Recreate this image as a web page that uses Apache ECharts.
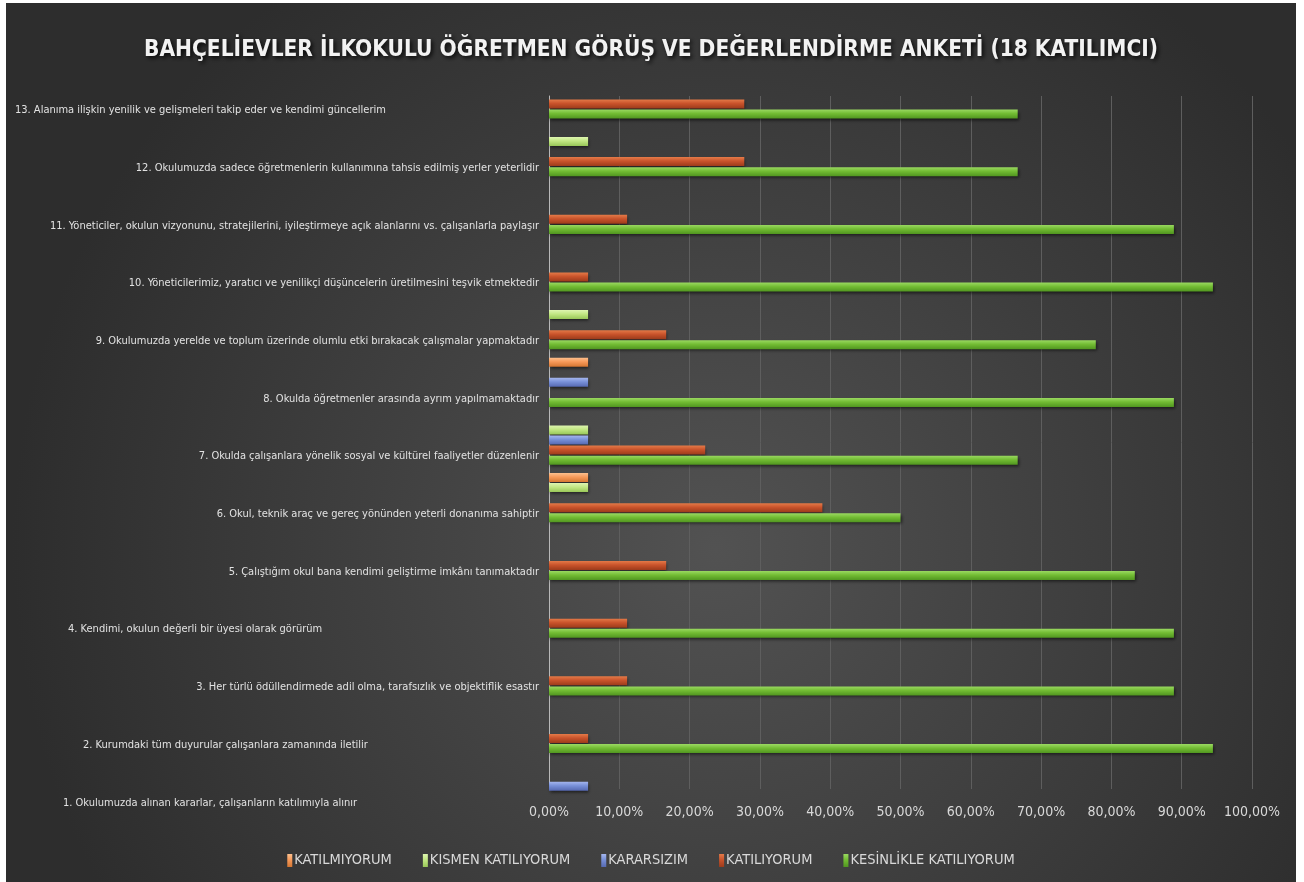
<!DOCTYPE html>
<html><head><meta charset="utf-8">
<script src="https://cdn.jsdelivr.net/npm/echarts@6/dist/echarts.min.js"></script>
<style>
html,body{margin:0;padding:0;background:#fff;width:1304px;height:882px;overflow:hidden}
#c{position:absolute;left:6px;top:3px;width:1290px;height:879px}
</style></head><body><div id="c"></div>
<script>
// ---- DATA (categories bottom -> top) ----
const categories = [
  "1. Okulumuzda alınan kararlar, çalışanların katılımıyla alınır",
  "2. Kurumdaki tüm duyurular çalışanlara zamanında iletilir",
  "3. Her türlü ödüllendirmede adil olma, tarafsızlık ve objektiflik esastır",
  "4. Kendimi, okulun değerli bir üyesi olarak görürüm",
  "5. Çalıştığım okul bana kendimi geliştirme imkânı tanımaktadır",
  "6. Okul, teknik araç ve gereç yönünden yeterli donanıma sahiptir",
  "7. Okulda çalışanlara yönelik sosyal ve kültürel faaliyetler düzenlenir",
  "8. Okulda öğretmenler arasında ayrım yapılmamaktadır",
  "9. Okulumuzda yerelde ve toplum üzerinde olumlu etki bırakacak çalışmalar yapmaktadır",
  "10. Yöneticilerimiz, yaratıcı ve yenilikçi düşüncelerin üretilmesini teşvik etmektedir",
  "11. Yöneticiler, okulun vizyonunu, stratejilerini, iyileştirmeye açık alanlarını vs. çalışanlarla paylaşır",
  "12. Okulumuzda sadece öğretmenlerin kullanımına tahsis edilmiş yerler yeterlidir",
  "13. Alanıma ilişkin yenilik ve gelişmeleri takip eder ve kendimi güncellerim"
];
const seriesNames = ["KATILMIYORUM", "KISMEN KATILIYORUM", "KARARSIZIM", "KATILIYORUM", "KESİNLİKLE KATILIYORUM"];
const katilmiyorum = [0, 0, 0, 0, 0, 5.56, 0, 5.56, 0, 0, 0, 0, 0];
const kismen       = [0, 0, 0, 0, 0, 5.56, 5.56, 0, 5.56, 0, 0, 5.56, 0];
const kararsizim   = [5.56, 0, 0, 0, 0, 0, 5.56, 5.56, 0, 0, 0, 0, 0];
const katiliyorum  = [0, 5.56, 11.11, 11.11, 16.67, 38.89, 22.22, 0, 16.67, 5.56, 11.11, 27.78, 27.78];
const kesinlikle   = [0, 94.44, 88.89, 88.89, 83.33, 50, 66.67, 88.89, 77.78, 94.44, 88.89, 66.67, 66.67];
const xTickLabels  = ["0,00%", "10,00%", "20,00%", "30,00%", "40,00%", "50,00%", "60,00%", "70,00%", "80,00%", "90,00%", "100,00%"];

// ---- STYLE ----
const narrow = "'Liberation Sans Narrow','DejaVu Sans Condensed',sans-serif";
function grad(top, mid, bottom) {
  return {type: 'linear', x: 0, y: 0, x2: 0, y2: 1,
    colorStops: [{offset: 0, color: top}, {offset: 0.45, color: mid}, {offset: 1, color: bottom}]};
}
const colors = [
  grad('#fcc08e', '#f79a5a', '#d57632'),
  grad('#def5b0', '#c2e783', '#98c758'),
  grad('#a5b6ee', '#7890d8', '#5669b2'),
  grad('#e47a48', '#c9532b', '#9c3b1b'),
  grad('#9ad961', '#72bc33', '#519620')
];
const values = [katilmiyorum, kismen, kararsizim, katiliyorum, kesinlikle];

// labels that are positioned differently in the reference (index -> box width)
const specialWidth = {0: 476, 1: 456, 3: 471, 12: 524};
const labelBase = {fontFamily: narrow, fontSize: 11, color: '#e2e2e2'};
const rich = {};
Object.keys(specialWidth).forEach(k => {
  rich['s' + k] = Object.assign({width: specialWidth[k], align: 'left'}, labelBase);
});

const chart = echarts.init(document.getElementById('c'));
chart.setOption({
  backgroundColor: {type: 'radial', x: 0.55, y: 0.62, r: 0.8,
    colorStops: [{offset: 0, color: '#525252'}, {offset: 1, color: '#2d2d2d'}]},
  animation: false,
  title: {
    text: 'BAHÇELİEVLER İLKOKULU ÖĞRETMEN GÖRÜŞ VE DEĞERLENDİRME ANKETİ (18 KATILIMCI)',
    left: 'center', top: 31,
    textStyle: {fontFamily: "'DejaVu Sans Condensed',sans-serif", fontWeight: 'bold', fontSize: 22.5,
      color: '#f2f2f2', textShadowColor: 'rgba(0,0,0,0.85)', textShadowBlur: 4,
      textShadowOffsetX: 2, textShadowOffsetY: 2}
  },
  legend: {
    data: seriesNames, left: 'center', top: 845, icon: 'rect', itemWidth: 5, itemHeight: 13, itemGap: 31,
    textStyle: {fontFamily: narrow, fontSize: 14.5, color: '#d9d9d9', padding: [0, 0, 0, -3]}
  },
  grid: [
    {left: 543, top: 62, width: 703, height: 750, outerBoundsMode: 'none', containLabel: false},
    {left: 543, top: 93, width: 703, height: 693, outerBoundsMode: 'none', containLabel: false}
  ],
  xAxis: [
    {gridIndex: 0, type: 'value', min: 0, max: 100, show: false},
    {gridIndex: 1, type: 'value', min: 0, max: 100, interval: 10,
      axisLine: {show: false}, axisTick: {show: false},
      splitLine: {show: true, lineStyle: {color: '#5e5e5e', width: 1}},
      axisLabel: {margin: 16, fontFamily: narrow, fontSize: 14, color: '#d9d9d9',
        formatter: (v) => xTickLabels[Math.round(v / 10)]}}
  ],
  yAxis: [
    {gridIndex: 0, type: 'category', data: categories,
      axisLine: {show: false}, axisTick: {show: false}, splitLine: {show: false},
      axisLabel: Object.assign({margin: 10, padding: [33, 0, 0, 0], rich: rich,
        formatter: (v, i) => (specialWidth[i] !== undefined ? '{s' + i + '|' + v + '}' : v)}, labelBase)},
    {gridIndex: 1, type: 'value', min: 0, max: 1,
      axisLine: {show: true, lineStyle: {color: '#b8b8b8', width: 1}},
      axisTick: {show: false}, axisLabel: {show: false}, splitLine: {show: false}}
  ],
  series: seriesNames.map((name, si) => ({
    name: name, type: 'bar', xAxisIndex: 0, yAxisIndex: 0,
    barWidth: 9, barGap: '12%',
    itemStyle: {color: colors[si], shadowColor: 'rgba(0,0,0,0.55)', shadowBlur: 3, shadowOffsetY: 2, shadowOffsetX: 1},
    data: values[si].map(v => (v === 0 ? null : v))
  }))
});
</script></body></html>
